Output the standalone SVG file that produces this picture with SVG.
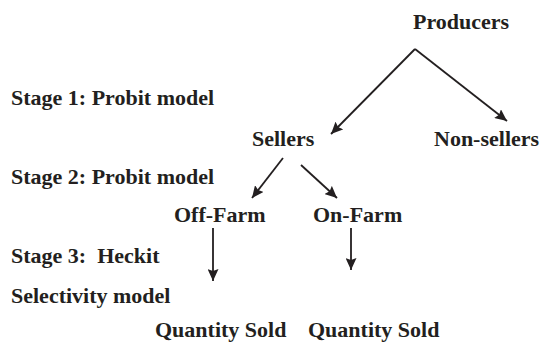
<svg xmlns="http://www.w3.org/2000/svg" width="541" height="342" viewBox="0 0 541 342">
<style>
.c line{stroke:#231f20;stroke-width:1.8}
</style>
<defs>
<marker id="ah" markerUnits="userSpaceOnUse" markerWidth="13" markerHeight="11" refX="12" refY="5.5" orient="auto">
<path d="M0,0 L12,5.5 L0,11 L2,5.5 z" fill="#231f20"/>
</marker>
</defs>
<rect width="541" height="342" fill="#fff"/>
<g font-family="Liberation Serif, Times New Roman, serif" font-weight="bold" font-size="22" fill="#231f20">
<g id="stages">
<text x="11" y="105">Stage 1: Probit model</text>
<text x="11" y="184">Stage 2: Probit model</text>
<text x="11" y="263" xml:space="preserve">Stage 3:  Heckit</text>
<text x="11" y="303">Selectivity model</text>
</g>
<g id="producers"><text x="413" y="29">Producers</text></g>
<g id="sellers"><text x="252" y="146">Sellers</text></g>
<g id="nonsellers"><text x="434" y="146">Non-sellers</text></g>
<g id="offfarm"><text x="174" y="222">Off-Farm</text></g>
<g id="onfarm"><text x="313" y="222">On-Farm</text></g>
<g id="qty1"><text x="155" y="337">Quantity Sold</text></g>
<g id="qty2"><text x="308" y="337">Quantity Sold</text></g>
</g>
<g class="c" id="connectors">
<line x1="415" y1="49" x2="331" y2="134" marker-end="url(#ah)"/>
<line x1="415" y1="49" x2="507" y2="121" marker-end="url(#ah)"/>
<line x1="283" y1="158" x2="252" y2="198" marker-end="url(#ah)"/>
<line x1="301" y1="165" x2="337" y2="198" marker-end="url(#ah)"/>
<line x1="213" y1="228" x2="213" y2="281" marker-end="url(#ah)"/>
<line x1="351" y1="228" x2="351" y2="270" marker-end="url(#ah)"/>
</g>
</svg>
